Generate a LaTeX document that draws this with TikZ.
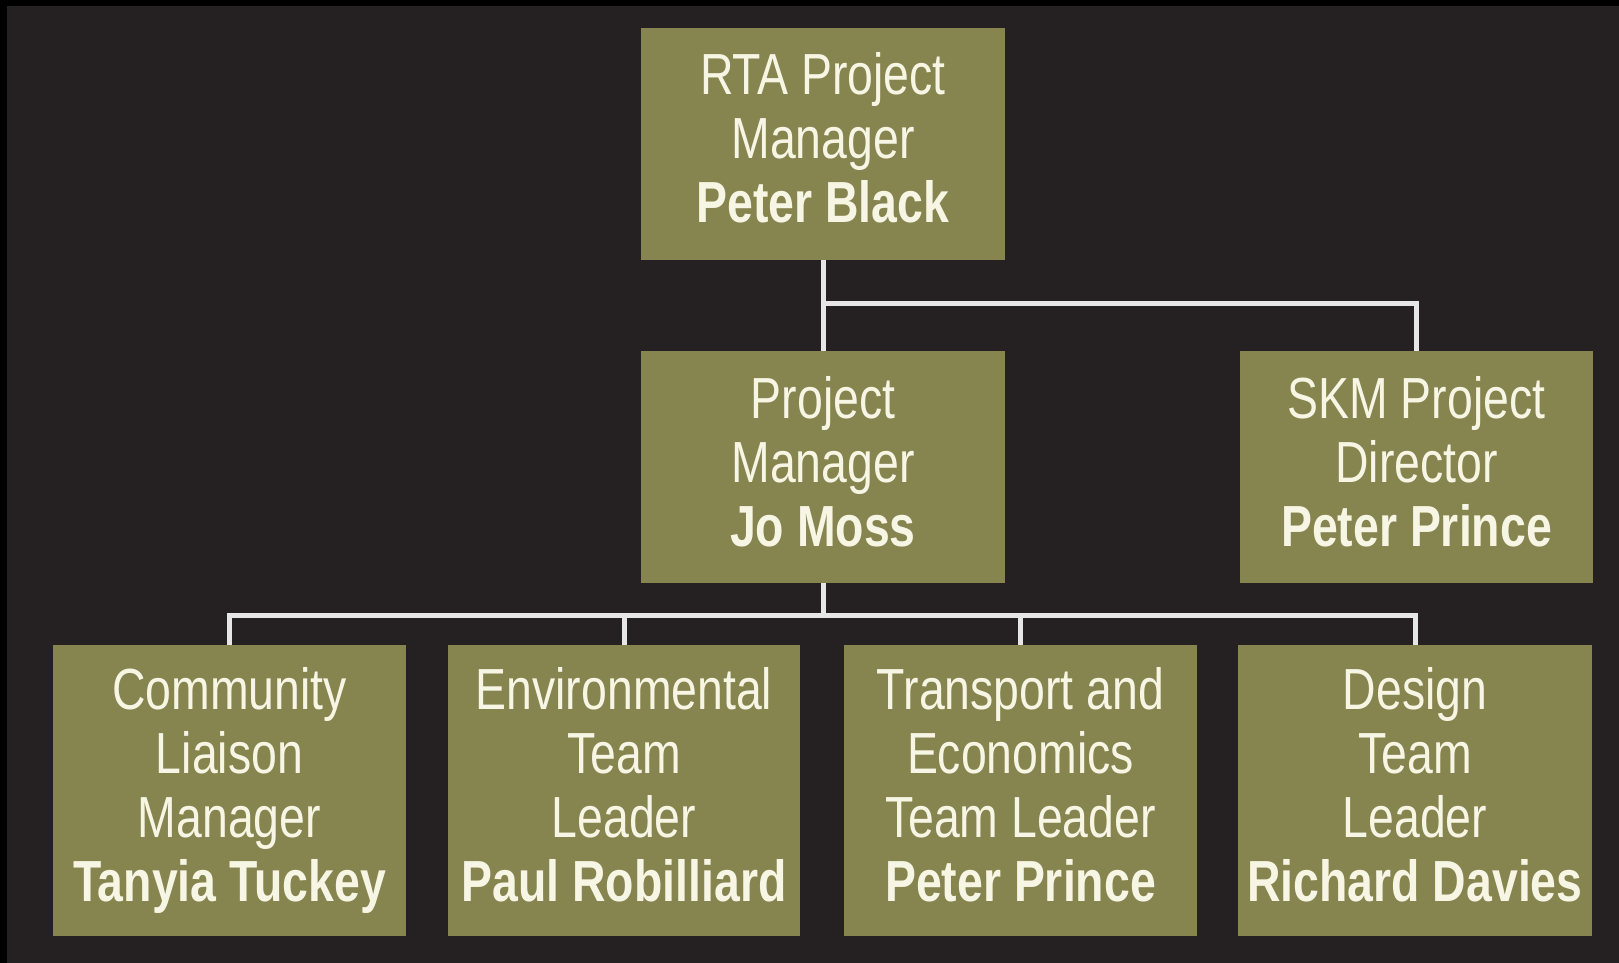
\documentclass[tikz,border=0pt]{standalone}
\usepackage{fontspec}
\setmainfont[FakeStretch=0.8]{Liberation Sans}
\usetikzlibrary{calc}
\definecolor{bgdark}{HTML}{252122}
\definecolor{olive}{HTML}{86844F}
\definecolor{cream}{HTML}{F7F5E3}
\definecolor{linegray}{HTML}{E6E6E6}
\newcommand{\nm}[1]{\textbf{#1}\vphantom{y}}
\tikzset{
  orgbox/.style={fill=olive, draw=none, inner sep=0pt, align=center,
    text=cream, font=\fontsize{58}{64}\selectfont},
  link/.style={draw=linegray, line width=5pt}
}
\begin{document}
\begin{tikzpicture}[x=1pt,y=-1pt]
\fill[black] (0,0) rectangle (1619,963);
\fill[bgdark] (7,6) rectangle (1619,963);
\useasboundingbox (0,0) rectangle (1619,963);
\node[orgbox, minimum width=364, minimum height=232] (rta) at (823,144)
  {RTA Project\\Manager\\\nm{Peter Black}};
\node[orgbox, minimum width=364, minimum height=232] (pm) at (823,467)
  {Project\\Manager\\\nm{Jo Moss}};
\node[orgbox, minimum width=353, minimum height=232] (skm) at (1416.5,467)
  {SKM Project\\Director\\\nm{Peter Prince}};
\node[orgbox, minimum width=353, minimum height=291] (cl) at (229.5,790.5)
  {Community\\Liaison\\Manager\\\nm{Tanyia Tuckey}};
\node[orgbox, minimum width=352, minimum height=291] (env) at (624,790.5)
  {Environmental\\Team\\Leader\\\nm{Paul Robilliard}};
\node[orgbox, minimum width=353, minimum height=291] (tr) at (1020.5,790.5)
  {Transport and\\Economics\\Team Leader\\\nm{Peter Prince}};
\node[orgbox, minimum width=354, minimum height=291] (des) at (1415,790.5)
  {Design\\Team\\Leader\\\nm{Richard Davies}};
\coordinate (j1) at ($(rta.south)+(0,43)$);
\coordinate (j2) at ($(pm.south)+(0,32)$);
\draw[link] (rta.south) -- (pm.north);
\draw[link] (j1) -| (skm.north);
\draw[link] (pm.south) -- (j2);
\draw[link] (j2) -| (cl.north);
\draw[link] (j2) -| (env.north);
\draw[link] (j2) -| (tr.north);
\draw[link] (j2) -| (des.north);
\end{tikzpicture}
\end{document}
